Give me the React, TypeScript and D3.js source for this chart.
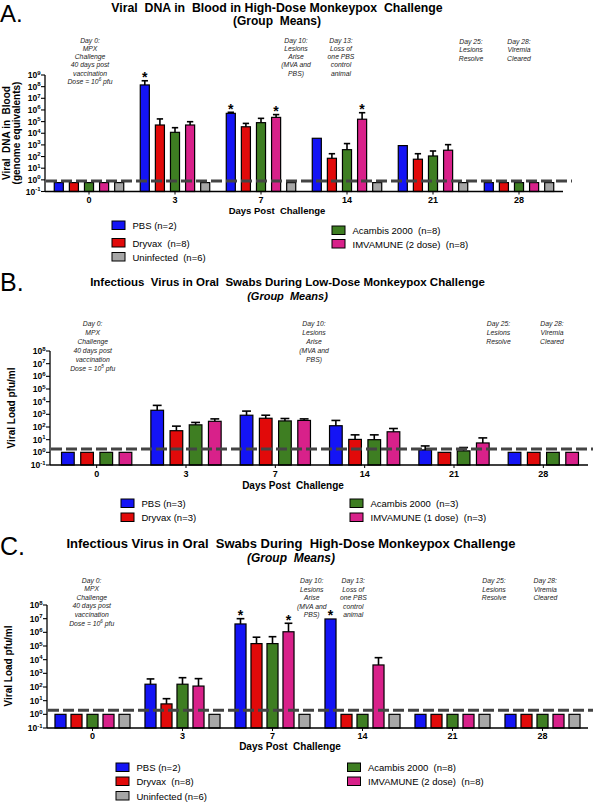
import React from "react";
import * as d3 from "d3";

// ---------- shared data ----------
const days = ["0", "3", "7", "14", "21", "28"];
const seriesColors = ["#1414f5", "#e10a0a", "#3e7e22", "#d8218a", "#a6a6a6"];

// ---------- Panel A: viral DNA in blood, high-dose challenge ----------
const aTitle1 = "Viral  DNA in  Blood in High-Dose Monkeypox  Challenge";
const aTitle2 = "(Group  Means)";
const aYTitle = ["Viral  DNA in  Blood", "(genome equivalents)"];
const aNames = ["PBS (n=2)", "Dryvax  (n=8)", "Acambis 2000  (n=8)", "IMVAMUNE (2 dose)  (n=8)", "Uninfected  (n=6)"];
const aPBS = [0.58, 1.4e8, 5.1e5, 3.7e3, 870, 0.58];
const aPBSErr = [null, 3.2e8, 6.3e5, null, null, null];
const aDryvax = [0.58, 5.1e4, 3.6e4, 71, 59, 0.58];
const aDryvaxErr = [null, 1.7e5, 7e4, 175, 175, null];
const aAcambis = [0.58, 1.2e4, 8.1e4, 390, 112, 0.58];
const aAcambisErr = [null, 3e4, 1.9e5, 1.3e3, 300, null];
const aImvamune = [0.58, 5.1e4, 2.3e5, 1.6e5, 350, 0.58];
const aImvamuneErr = [null, 9.8e4, 4e5, 5.8e5, 1.05e3, null];
const aUninfected = [0.58, 0.58, 0.58, 0.58, 0.58, 0.58];
const aUninfectedErr = [null, null, null, null, null, null];
const aStars = [["3", 0], ["7", 0], ["7", 3], ["14", 3]];
const aLimit = 0.8;
const aNotes = [
  ["Day 0:", "MPX", "Challenge", "40 days post", "vaccination", "Dose = 10^6 pfu"],
  ["Day 10:", "Lesions", "Arise", "(MVA and", "PBS)"],
  ["Day 13:", "Loss of", "one PBS", "control", "animal"],
  ["Day 25:", "Lesions", "Resolve"],
  ["Day 28:", "Viremia", "Cleared"],
];

// ---------- Panel B: infectious virus in oral swabs, low-dose ----------
const bTitle1 = "Infectious  Virus in Oral  Swabs During Low-Dose Monkeypox Challenge";
const bTitle2 = "(Group  Means)";
const bYTitle = ["Viral Load pfu/ml"];
const bNames = ["PBS (n=3)", "Dryvax (n=3)", "Acambis 2000  (n=3)", "IMVAMUNE (1 dose)  (n=3)"];
const bPBS = [1, 2.1e3, 850, 126, 1.55, 1];
const bPBSErr = [null, 5.1e3, 1.8e3, 330, 3.2, null];
const bDryvax = [1, 51, 490, 10.5, 1, 1];
const bDryvaxErr = [null, 117, 850, 24, null, null];
const bAcambis = [1, 148, 302, 10, 1.3, 1];
const bAcambisErr = [null, 229, 468, 24, 2.4, null];
const bImvamune = [1, 282, 331, 42, 5.5, 1];
const bImvamuneErr = [null, 437, 437, 76, 13.8, null];
const bStars: any[] = [];
const bLimit = 1.8;
const bNotes = [
  ["Day 0:", "MPX", "Challenge", "40 days post", "vaccination", "Dose = 10^5 pfu"],
  ["Day 10:", "Lesions", "Arise", "(MVA and", "PBS)"],
  ["Day 25:", "Lesions", "Resolve"],
  ["Day 28:", "Viremia", "Cleared"],
];

// ---------- Panel C: infectious virus in oral swabs, high-dose ----------
const cTitle1 = "Infectious Virus in Oral  Swabs During  High-Dose Monkeypox Challenge";
const cTitle2 = "(Group  Means)";
const cYTitle = ["Viral Load pfu/ml"];
const cNames = ["PBS (n=2)", "Dryvax  (n=8)", "Acambis 2000  (n=8)", "IMVAMUNE (2 dose)  (n=8)", "Uninfected (n=6)"];
const cPBS = [1, 160, 4.1e6, 9.5e6, 1, 1];
const cPBSErr = [null, 390, 1e7, null, null, null];
const cDryvax = [1, 5.8, 1.5e5, 1, 1, 1];
const cDryvaxErr = [null, 14, 4.4e5, null, null, null];
const cAcambis = [1, 160, 1.5e5, 1, 1, 1];
const cAcambisErr = [null, 480, 4.8e5, null, null, null];
const cImvamune = [1, 117, 1.1e6, 4.1e3, 1, 1];
const cImvamuneErr = [null, 410, 4.6e6, 1.4e4, null, null];
const cUninfected = [1, 1, 1, 1, 1, 1];
const cUninfectedErr = [null, null, null, null, null, null];
const cStars = [["7", 0], ["7", 3], ["14", 0]];
const cLimit = 2;
const cNotes = [
  ["Day 0:", "MPX", "Challenge", "40 days post", "vaccination", "Dose = 10^6 pfu"],
  ["Day 10:", "Lesions", "Arise", "(MVA and", "PBS)"],
  ["Day 13:", "Loss of", "one PBS", "control", "animal"],
  ["Day 25:", "Lesions", "Resolve"],
  ["Day 28:", "Viremia", "Cleared"],
];

const xTitle = "Days Post  Challenge";
const FONT = "Liberation Sans, Arial, Helvetica, sans-serif";

const panels = [
  {
    letter: "A.", letterY: 22, letterSize: 24, title1: aTitle1, title2: aTitle2, titleX: 277, t1Y: 11.5, t2Y: 25, t1Size: 12.3, t2Size: 12, t2Italic: false,
    yTitle: aYTitle, yTitleX: [10, 19.5], yTitleY: 133,
    names: aNames, values: [aPBS, aDryvax, aAcambis, aImvamune, aUninfected],
    errs: [aPBSErr, aDryvaxErr, aAcambisErr, aImvamuneErr, aUninfectedErr],
    colors: [0, 1, 2, 3, 4], stars: aStars, limit: aLimit,
    axisX: 45, xRange: [46, 562], xAxisEnd: 563, yTop: 75, yBottom: 191.5, topExp: 9,
    groupW: 75.5, pad: 0.4, dashEnd: 572, tickLabelY: 203, xTitleX: 277, xTitleY: 214, xTitleSize: 9.5,
    notes: aNotes, noteX: [90, 296, 341, 471, 519], noteY: [42.5, 42.5, 42.5, 44, 44], noteLH: 8.3,
    legend: [[112, 221], [112, 238.5], [332, 226], [332, 239.5], [112, 252.5]],
  },
  {
    letter: "B.", letterY: 291, letterSize: 25, title1: bTitle1, title2: bTitle2, titleX: 287.5, t1Y: 286, t2Y: 300, t1Size: 11.5, t2Size: 11, t2Italic: true,
    yTitle: bYTitle, yTitleX: [15], yTitleY: 408,
    names: bNames, values: [bPBS, bDryvax, bAcambis, bImvamune],
    errs: [bPBSErr, bDryvaxErr, bAcambisErr, bImvamuneErr],
    colors: [0, 1, 2, 3], stars: bStars, limit: bLimit,
    axisX: 50, xRange: [52, 588], xAxisEnd: 588, yTop: 351, yBottom: 465, topExp: 8,
    groupW: 76.8, pad: 0.34, dashEnd: 593, tickLabelY: 477, xTitleX: 293, xTitleY: 488.5, xTitleSize: 10,
    notes: bNotes, noteX: [92.7, 314, 498.5, 552], noteY: [326, 326, 326, 326], noteLH: 9,
    legend: [[121, 499], [121, 513], [350, 499], [350, 513]],
  },
  {
    letter: "C.", letterY: 555, letterSize: 25, title1: cTitle1, title2: cTitle2, titleX: 291, t1Y: 548, t2Y: 562, t1Size: 13, t2Size: 12, t2Italic: true,
    yTitle: cYTitle, yTitleX: [11.5], yTitleY: 666,
    names: cNames, values: [cPBS, cDryvax, cAcambis, cImvamune, cUninfected],
    errs: [cPBSErr, cDryvaxErr, cAcambisErr, cImvamuneErr, cUninfectedErr],
    colors: [0, 1, 2, 3, 4], stars: cStars, limit: cLimit,
    axisX: 47, xRange: [47.5, 587.5], xAxisEnd: 588, yTop: 605, yBottom: 728, topExp: 8,
    groupW: 80, pad: 0.31, dashEnd: 593, tickLabelY: 739, xTitleX: 290, xTitleY: 750, xTitleSize: 10,
    notes: cNotes, noteX: [91.7, 311.7, 353.3, 494, 545.3], noteY: [582.5, 583, 583, 583, 583], noteLH: 8.6,
    legend: [[116, 763], [116, 777], [347.5, 763], [347.5, 777], [116, 791.5]],
  },
];

function NoteLine({ text, x, y }: { text: string; x: number; y: number }) {
  const m = text.match(/^(.*10)\^(\d+)(.*)$/);
  if (m) {
    return (
      <text x={x} y={y} textAnchor="middle" fontSize={6.8} fontStyle="italic" fill="#222" style={{ whiteSpace: "pre" }}>
        {m[1]}
        <tspan dy={-2.6} fontSize={4.6}>{m[2]}</tspan>
        <tspan dy={2.6}>{m[3]}</tspan>
      </text>
    );
  }
  return (
    <text x={x} y={y} textAnchor="middle" fontSize={6.8} fontStyle="italic" fill="#222">
      {text}
    </text>
  );
}

function Panel({ p }: { p: any }) {
  const x0 = d3.scaleBand<string>().domain(days).range(p.xRange as [number, number]);
  const idx = p.names.map((_: string, i: number) => String(i));
  const x1 = d3
    .scaleBand<string>()
    .domain(idx)
    .range([0, p.groupW])
    .paddingInner(p.pad)
    .paddingOuter(p.pad / 2);
  const y = d3.scaleLog().domain([0.1, Math.pow(10, p.topExp)]).range([p.yBottom, p.yTop]);
  const exps = d3.range(-1, p.topExp + 1);
  const off = (x0.bandwidth() - p.groupW) / 2;
  const bw = x1.bandwidth();
  const barX = (d: string, i: number) => (x0(d) as number) + off + (x1(String(i)) as number);

  return (
    <g>
      <text x={0} y={p.letterY} fontSize={p.letterSize}>{p.letter}</text>
      <text x={p.titleX} y={p.t1Y} textAnchor="middle" fontWeight="bold" fontSize={p.t1Size} style={{ whiteSpace: "pre" }}>
        {p.title1}
      </text>
      <text x={p.titleX} y={p.t2Y} textAnchor="middle" fontWeight="bold" fontStyle={p.t2Italic ? "italic" : "normal"} fontSize={p.t2Size} style={{ whiteSpace: "pre" }}>
        {p.title2}
      </text>

      {p.notes.map((lines: string[], k: number) =>
        lines.map((t, j) => <NoteLine key={k + "-" + j} text={t} x={p.noteX[k]} y={p.noteY[k] + j * p.noteLH} />)
      )}

      {p.yTitle.map((t: string, k: number) => (
        <text
          key={k}
          transform={`translate(${p.yTitleX[k]},${p.yTitleY}) rotate(-90)`}
          textAnchor="middle"
          fontWeight="bold"
          fontSize={10}
          style={{ whiteSpace: "pre" }}
        >
          {t}
        </text>
      ))}

      {p.values.map((vals: number[], i: number) =>
        days.map((d, j) => {
          const v = vals[j];
          return (
            <rect
              key={i + "-" + d}
              x={barX(d, i)}
              y={y(v)}
              width={bw}
              height={p.yBottom - y(v)}
              fill={seriesColors[p.colors[i]]}
              stroke="#000"
              strokeWidth={1.2}
            />
          );
        })
      )}

      {p.errs.map((errs: (number | null)[], i: number) =>
        days.map((d, j) => {
          const e = errs[j];
          if (e == null) return null;
          const cx = barX(d, i) + bw / 2;
          const cw = bw * 0.7;
          return (
            <g key={"e" + i + "-" + d} stroke="#000" strokeWidth={1.6}>
              <line x1={cx} x2={cx} y1={y(p.values[i][j])} y2={y(e)} />
              <line x1={cx - cw / 2} x2={cx + cw / 2} y1={y(e)} y2={y(e)} />
            </g>
          );
        })
      )}

      {p.stars.map(([d, i]: [string, number], k: number) => {
        const j = days.indexOf(d);
        const top = p.errs[i][j] ?? p.values[i][j];
        const cx = barX(d, i) + bw / 2;
        return (
          <text key={"s" + k} x={cx} y={y(top) + 1.5} textAnchor="middle" fontWeight="bold" fontSize={14}>
            *
          </text>
        );
      })}

      <line
        x1={p.axisX + 1}
        x2={p.dashEnd}
        y1={y(p.limit)}
        y2={y(p.limit)}
        stroke="#444"
        strokeWidth={3}
        strokeDasharray="11 4"
      />

      <line x1={p.axisX} x2={p.axisX} y1={p.yTop} y2={p.yBottom} stroke="#000" strokeWidth={1.3} />
      {exps.map((e: number) => (
        <g key={"t" + e}>
          <line x1={p.axisX - 4} x2={p.axisX} y1={y(Math.pow(10, e))} y2={y(Math.pow(10, e))} stroke="#000" strokeWidth={1.1} />
          <text x={p.axisX - 4.5} y={y(Math.pow(10, e)) + 3} textAnchor="end" fontWeight="bold" fontSize={8.5}>
            10<tspan dy={-3.5} fontSize={6}>{e}</tspan>
          </text>
        </g>
      ))}

      <line x1={p.axisX} x2={p.xAxisEnd} y1={p.yBottom} y2={p.yBottom} stroke="#000" strokeWidth={1.3} />
      {days.map((d) => {
        const cx = (x0(d) as number) + x0.bandwidth() / 2;
        return (
          <g key={"x" + d}>
            <line x1={cx} x2={cx} y1={p.yBottom} y2={p.yBottom + 3} stroke="#000" strokeWidth={1} />
            <text x={cx} y={p.tickLabelY} textAnchor="middle" fontWeight="bold" fontSize={9}>
              {d}
            </text>
          </g>
        );
      })}
      <text x={p.xTitleX} y={p.xTitleY} textAnchor="middle" fontWeight="bold" fontSize={p.xTitleSize} style={{ whiteSpace: "pre" }}>
        {xTitle}
      </text>

      {p.names.map((n: string, i: number) => {
        const [lx, ly] = p.legend[i];
        return (
          <g key={"l" + i}>
            <rect x={lx} y={ly} width={13} height={8.5} fill={seriesColors[p.colors[i]]} stroke="#000" strokeWidth={1} />
            <text x={lx + 20.5} y={ly + 8} fontSize={9.5} style={{ whiteSpace: "pre" }}>
              {n}
            </text>
          </g>
        );
      })}
    </g>
  );
}

export default function App() {
  return (
    <svg
      width={593}
      height={802}
      viewBox="0 0 593 802"
      style={{ position: "absolute", left: 0, top: 0, background: "#fff" }}
      fontFamily={FONT}
    >
      <rect width={593} height={802} fill="#fff" />
      {panels.map((p, k) => (
        <Panel key={k} p={p} />
      ))}
    </svg>
  );
}
